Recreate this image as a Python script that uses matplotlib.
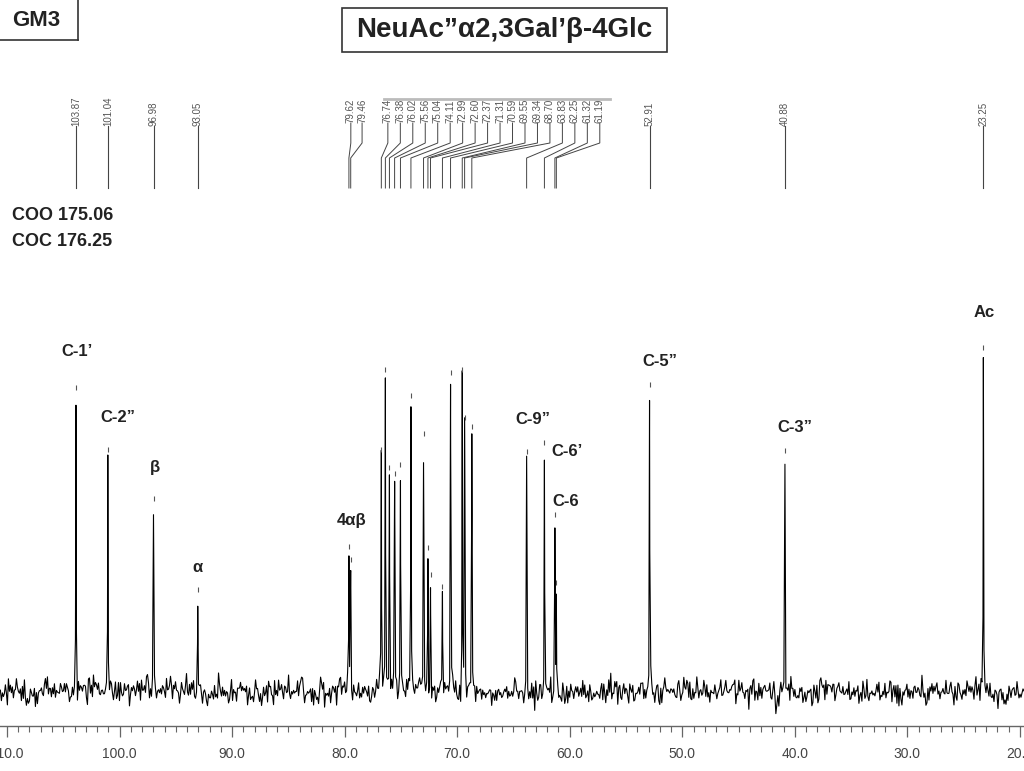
import numpy as np
import matplotlib.pyplot as plt
from matplotlib.patches import Rectangle
from matplotlib.lines import Line2D
from matplotlib.ticker import MultipleLocator, FormatStrFormatter

plt.rcParams['font.family'] = ['Liberation Sans', 'DejaVu Sans']

# picked 13C peaks (ppm) and their heights (baseline = 0)
shift = [103.87, 101.04, 96.98, 93.05, 79.62, 79.46, 76.74, 76.38, 76.02, 75.56,
         75.04, 74.11, 72.99, 72.60, 72.37, 71.31, 70.59, 69.55, 69.34, 68.70,
         63.83, 62.25, 61.32, 61.19, 52.91, 40.88, 23.25]
height = [293, 231, 182, 91, 134, 121, 231, 311, 213, 207,
          216, 285, 247, 133, 106, 94, 308, 311, 263, 254,
          229, 238, 166, 98, 296, 230, 333]

# assignments written over the peaks: text, ppm, height, alignment
assign = ["C-1’", "C-2”", "β", "α", "4αβ", "C-9”", "C-6’", "C-6", "C-5”", "C-3”", "Ac"]
assign_x = [103.78, 100.14, 96.85, 93.04, 79.36, 63.28, 61.60, 61.51, 52.01, 40.02, 23.14]
assign_y = [339, 273, 223, 123, 171, 271, 239, 189, 329, 263, 378]
assign_ha = ['center'] * 6 + ['left', 'left'] + ['center'] * 3

carbonyl = ["COO 175.06", "COC 176.25"]

x_left, x_right = 110.62, 19.64

fig = plt.figure(figsize=(10.24, 7.71), dpi=100)

# ---- spectrum ----
ax = fig.add_axes([0, 45 / 771, 1, 426 / 771])
grid = np.arange(x_right, x_left, 0.0889)
x = np.union1d(grid, shift)
rng = np.random.default_rng(7)
y = rng.normal(0, 7, x.size)   # baseline noise texture
w = 0.02
for s, h in zip(shift, height):
    y = y + h * w**2 / ((x - s)**2 + w**2)
ax.plot(x, y, color='black', lw=0.8)

# small peak-pick markers over each peak
ax.vlines(shift, np.array(height) + 8, np.array(height) + 13, color='#555555', lw=0.8)

for t, px, py, ha in zip(assign, assign_x, assign_y, assign_ha):
    ax.text(px, py, t, ha=ha, va='center', fontsize=12, fontweight='bold', color='#222222')

ax.set_xlim(x_left, x_right)
ax.set_ylim(-35, 391)
for sp in ['top', 'left', 'right']:
    ax.spines[sp].set_visible(False)
ax.spines['bottom'].set_color('#666666')
ax.spines['bottom'].set_linewidth(1.0)
ax.set_yticks([])
ax.xaxis.set_major_locator(MultipleLocator(10))
ax.xaxis.set_minor_locator(MultipleLocator(1))
ax.xaxis.set_major_formatter(FormatStrFormatter('%.1f'))
ax.tick_params(axis='x', which='major', direction='out', length=8, width=0.9,
               color='#666666', labelsize=10, labelcolor='#444444', pad=7)
ax.tick_params(axis='x', which='minor', direction='out', length=4, width=0.8, color='#666666')

# ---- peak list on top ----
axt = fig.add_axes([0, (771 - 195) / 771, 1, 107 / 771])
axt.set_xlim(x_left, x_right)
axt.set_ylim(195, 88)
axt.axis('off')

label_x = list(shift)
label_x[4:6] = [79.45, 78.45]
label_x[6:24] = list(np.linspace(76.16, 57.33, 18))

axt.plot([76.5, 56.4], [99, 99], color='#bbbbbb', lw=2)
for s, lx in zip(shift, label_x):
    if lx == s:
        axt.plot([s, s], [126, 188], color='#444444', lw=0.8)
        axt.text(s, 126, f"{s:.2f}", rotation=90, ha='center', va='bottom',
                 fontsize=7, color='#555555')
    else:
        axt.plot([lx, lx, s, s], [123, 143, 158, 188], color='#444444', lw=0.7)
        axt.text(lx, 123, f"{s:.2f}", rotation=90, ha='center', va='bottom',
                 fontsize=7, color='#555555')

# ---- headings ----
fig.add_artist(Line2D([0, 78 / 1024], [1 - 40 / 771] * 2, color='#333333', lw=1.2))
fig.add_artist(Line2D([78 / 1024] * 2, [1, 1 - 40 / 771], color='#333333', lw=1.2))
fig.text(12 / 1024, 1 - 21 / 771, "GM3", fontsize=16, fontweight='bold', va='center', color='#222222')

fig.add_artist(Rectangle((342 / 1024, 1 - 52 / 771), 325 / 1024, 44 / 771, fill=False,
                         ec='#333333', lw=1.2, transform=fig.transFigure))
fig.text(504.5 / 1024, 1 - 30 / 771, "NeuAc”α2,3Gal’β-4Glc", fontsize=20, fontweight='bold',
         ha='center', va='center', color='#222222')

for i, t in enumerate(carbonyl):
    fig.text(12 / 1024, 1 - (216 + 25 * i) / 771, t, fontsize=13, fontweight='bold',
             va='center', color='#222222')

fig.savefig("out.png", dpi=100)
